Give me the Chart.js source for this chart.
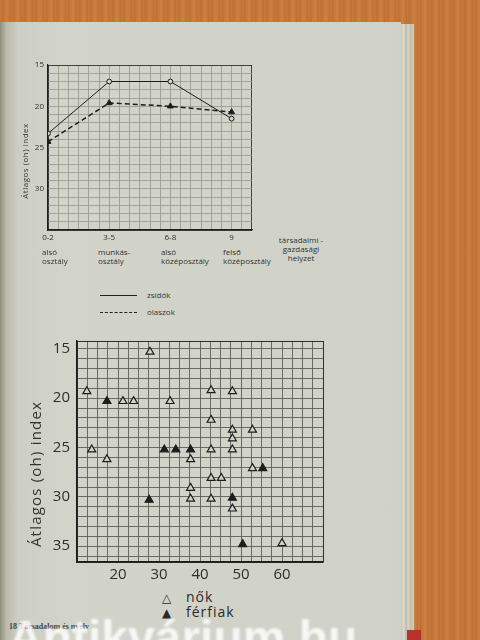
<!DOCTYPE html>
<html>
<head>
<meta charset="utf-8">
<script src="https://cdn.jsdelivr.net/npm/chart.js@4.4.0/dist/chart.umd.min.js"></script>
<style>
  html, body { margin: 0; padding: 0; }
  body {
    width: 480px; height: 640px; overflow: hidden; position: relative;
    background: repeating-linear-gradient(90deg, #c77a3c 0px, #c07236 3px, #cc8243 7px, #bd6f33 11px);
    font-family: 'Open Sans', 'DejaVu Sans', sans-serif; color: #2a2a2a;
  }
  .page {
    position: absolute; left: 0; top: 22px; width: 401px; height: 618px;
    background: linear-gradient(90deg, #8e8f7e 0px, #b9baa9 6px, #cdcfc4 18px, #d2d4ca 60px, #d0d2c7 400px);
  }
  .edges {
    position: absolute; left: 401px; top: 24px; width: 13px; height: 616px;
    background: linear-gradient(90deg, #c9c9b9 0, #dcdccd 3px, #b8b7a4 5px, #d6d6c6 7px, #bebda9 10px, #d2d1c0 13px);
  }
  .cover { position: absolute; left: 407px; top: 630px; width: 14px; height: 10px; background: #b8322a; }
  canvas { position: absolute; }
  .t { position: absolute; white-space: nowrap; line-height: 1; }
  .small { font-size: 8px; color: #333; }
  .note { font-size: 8px; color: #333; line-height: 9px; }
  .vtitle { transform: translate(-50%, -50%) rotate(-90deg); }
  .leg-line { position: absolute; width: 37px; height: 0; border-top: 1px solid #222; }
  .leg-dash { border-top: 1.5px dashed #222; }
  .footer { font-family: 'Liberation Serif', serif; font-weight: bold; font-size: 8px; color: #444; }
  .mark {
    font-family: 'Liberation Sans', sans-serif; font-weight: bold; font-size: 48px;
    color: rgba(255,255,255,0.82); filter: blur(1.3px);
  }
</style>
</head>
<body>
<div class="page"></div>
<div class="edges"></div>
<div class="cover"></div>

<canvas id="topChart" width="240" height="190" style="left:18px; top:55px; width:240px; height:190px;"></canvas>
<canvas id="bottomChart" width="290" height="262" style="left:40px; top:325px; width:290px; height:262px;"></canvas>
<div id="overlay"></div>

<script>
// ---- top chart: index by social class ----
const categories = ['0-2', '3-5', '6-8', '9'];
const categoryNotes = [['alsó', 'osztály'], ['munkás-', 'osztály'], ['alsó', 'középosztály'], ['felső', 'középosztály']];
const zsidok = [23.3, 17.0, 17.0, 21.5];
const olaszok = [24.3, 19.6, 20.0, 20.7];
const topYLabels = [15, 20, 25, 30];
const topXTitle = ['társadalmi -', 'gazdasági', 'helyzet'];

// ---- bottom chart: index by age ----
const nokX = [12.4, 13.6, 17.3, 21.2, 23.8, 27.8, 32.7, 37.7, 37.7, 37.7, 42.7, 42.7, 42.7, 42.7, 42.7, 45.2, 47.9, 47.9, 47.9, 47.9, 47.9, 52.8, 52.8, 60.0];
const nokY = [19.3, 25.2, 26.2, 20.3, 20.3, 15.3, 20.3, 26.2, 29.1, 30.2, 19.2, 22.2, 25.2, 28.1, 30.2, 28.1, 19.3, 23.2, 24.1, 25.2, 31.2, 23.2, 27.1, 34.7];
const ferfiakX = [17.3, 27.6, 31.3, 34.1, 37.7, 47.9, 50.4, 55.3];
const ferfiakY = [20.3, 30.3, 25.2, 25.2, 25.2, 30.1, 34.8, 27.1];
const bottomXLabels = [20, 30, 40, 50, 60];
const bottomYLabels = [15, 20, 25, 30, 35];

const PAPER = '#d1d3c8';
const INK = '#1d1d1d';
const yTitle = 'Átlagos (oh) index';

Chart.defaults.font.family = "'Open Sans', 'DejaVu Sans', sans-serif";
Chart.defaults.color = '#2e2e2e';

function range(from, to, step) {
  const out = [];
  const n = Math.round((to - from) / step);
  for (let i = 0; i <= n; i++) out.push(from + i * step);
  return out;
}
const near = (a, b) => Math.abs(a - b) < 1e-6;

// graph-paper grid: darker line on the frame edges
function gridColor(min, max, light) {
  return (ctx) => {
    const v = ctx.tick ? ctx.tick.value : null;
    return v !== null && (near(v, min) || near(v, max)) ? INK : light;
  };
}

// ---------- top chart ----------
const topXMax = 20 / 6;
new Chart(document.getElementById('topChart'), {
  type: 'line',
  data: {
    datasets: [
      {
        label: 'zsidók',
        data: zsidok.map((v, i) => ({ x: i, y: v })),
        borderColor: INK, borderWidth: 1,
        pointStyle: 'circle', pointRadius: 2.4,
        pointBackgroundColor: PAPER, pointBorderColor: INK, pointBorderWidth: 1,
      },
      {
        label: 'olaszok',
        data: olaszok.map((v, i) => ({ x: i, y: v })),
        borderColor: INK, borderWidth: 1.5, borderDash: [5, 3],
        pointStyle: 'triangle', pointRadius: 3.4,
        pointBackgroundColor: INK, pointBorderColor: INK, pointBorderWidth: 1,
      },
    ],
  },
  options: {
    responsive: false, animation: false, devicePixelRatio: 1,
    layout: { padding: { top: 10, right: 6, left: 0, bottom: 0 } },
    plugins: { legend: { display: false }, tooltip: { enabled: false } },
    scales: {
      x: {
        type: 'linear', min: 0, max: topXMax,
        afterBuildTicks: (axis) => { axis.ticks = range(0, topXMax, 1 / 6).map((v) => ({ value: v })); },
        afterFit: (axis) => { axis.height = 15; },
        grid: { color: gridColor(0, topXMax, '#96978f'), lineWidth: 0.8, drawTicks: false },
        border: { color: INK, width: 1.2 },
        ticks: {
          autoSkip: false, maxRotation: 0, padding: 3, font: { size: 8 },
          callback: (v) => {
            const i = Math.round(v * 6);
            return i % 6 === 0 && categories[i / 6] !== undefined ? categories[i / 6] : '';
          },
        },
      },
      y: {
        reverse: true, min: 15, max: 35,
        afterBuildTicks: (axis) => { axis.ticks = range(15, 35, 1).map((v) => ({ value: v })); },
        afterFit: (axis) => { axis.width = 30; },
        grid: { color: gridColor(15, 35, '#96978f'), lineWidth: 0.8, drawTicks: false },
        border: { color: INK, width: 1.2 },
        ticks: {
          autoSkip: false, padding: 4, font: { size: 8 },
          callback: (v) => (topYLabels.includes(v) ? String(v) : ''),
        },
      },
    },
  },
});

// ---------- bottom chart ----------
const bxMin = 10, bxMax = 70, byMin = 14.2, byMax = 36.6;
new Chart(document.getElementById('bottomChart'), {
  type: 'scatter',
  data: {
    datasets: [
      {
        label: 'nők',
        data: nokX.map((x, i) => ({ x, y: nokY[i] })),
        pointStyle: 'triangle', pointRadius: 4.6,
        pointBackgroundColor: PAPER, pointBorderColor: INK, pointBorderWidth: 1.2,
      },
      {
        label: 'férfiak',
        data: ferfiakX.map((x, i) => ({ x, y: ferfiakY[i] })),
        pointStyle: 'triangle', pointRadius: 4.6,
        pointBackgroundColor: INK, pointBorderColor: INK, pointBorderWidth: 1.2,
      },
    ],
  },
  options: {
    responsive: false, animation: false, devicePixelRatio: 1,
    layout: { padding: { top: 9, right: 7, left: 0, bottom: 0 } },
    plugins: { legend: { display: false }, tooltip: { enabled: false } },
    scales: {
      x: {
        type: 'linear', min: bxMin, max: bxMax,
        afterBuildTicks: (axis) => { axis.ticks = range(bxMin, bxMax, 2.5).map((v) => ({ value: v })); },
        afterFit: (axis) => { axis.height = 25; },
        grid: { color: gridColor(bxMin, bxMax, '#5c5d56'), lineWidth: 0.9, drawTicks: false },
        border: { color: INK, width: 1.4 },
        ticks: {
          autoSkip: false, maxRotation: 0, padding: 4, font: { size: 15 },
          callback: (v) => (bottomXLabels.includes(v) ? String(v) : ''),
        },
      },
      y: {
        type: 'linear', reverse: true, min: byMin, max: byMax,
        afterBuildTicks: (axis) => {
          axis.ticks = [byMin].concat(range(15, 36, 1), [byMax]).map((v) => ({ value: v }));
        },
        afterFit: (axis) => { axis.width = 37; },
        grid: { color: gridColor(byMin, byMax, '#5c5d56'), lineWidth: 0.9, drawTicks: false },
        border: { color: INK, width: 1.4 },
        ticks: {
          autoSkip: false, padding: 7, font: { size: 15 },
          callback: (v) => (bottomYLabels.includes(v) ? String(v) : ''),
        },
      },
    },
  },
});

// ---------- text around the charts ----------
const overlay = document.getElementById('overlay');
function addText(html, cls, left, top, extra) {
  const d = document.createElement('div');
  d.className = 't ' + cls;
  d.innerHTML = html;
  d.style.left = left + 'px';
  d.style.top = top + 'px';
  if (extra) Object.assign(d.style, extra);
  overlay.appendChild(d);
  return d;
}

// y titles
addText(yTitle, 'small vtitle', 25, 161, { fontSize: '8px', letterSpacing: '0.5px' });
addText(yTitle, 'vtitle', 35, 474, { fontSize: '15px', letterSpacing: '1.2px', color: '#333' });

// category notes under the top chart
const noteLeft = [42, 98, 161, 223];
categoryNotes.forEach((lines, i) => addText(lines.join('<br>'), 'note', noteLeft[i], 247));
addText(topXTitle.join('<br>'), 'note', 301, 235, { transform: 'translateX(-50%)', textAlign: 'center' });

// top legend
const l1 = document.createElement('div'); l1.className = 'leg-line';
l1.style.left = '100px'; l1.style.top = '295px'; overlay.appendChild(l1);
const l2 = document.createElement('div'); l2.className = 'leg-line leg-dash';
l2.style.left = '100px'; l2.style.top = '312px'; overlay.appendChild(l2);
addText('zsidók', 'small', 147, 291);
addText('olaszok', 'small', 147, 308);

// bottom legend
addText('△', '', 162, 592, { fontSize: '12px', fontFamily: "'DejaVu Sans', sans-serif" });
addText('nők', '', 186, 590, { fontSize: '14px', letterSpacing: '1px' });
addText('▲', '', 162, 607, { fontSize: '12px', fontFamily: "'DejaVu Sans', sans-serif" });
addText('férfiak', '', 186, 605, { fontSize: '14px', letterSpacing: '1px' });

// page footer and watermark
addText('18 Társadalom és nyelv', 'footer', 9, 623);
addText('Antikvárium.hu', 'mark', 8, 614);
</script>
</body>
</html>
